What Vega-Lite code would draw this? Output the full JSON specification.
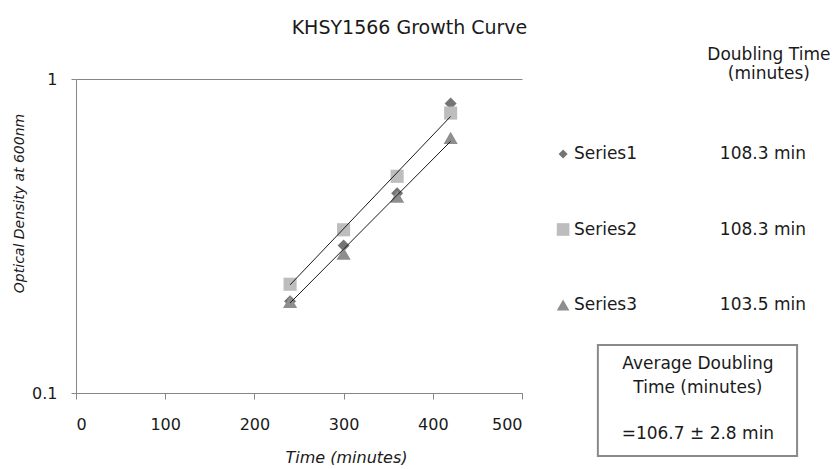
{
  "$schema": "https://vega.github.io/schema/vega-lite/v6.json",
  "background": "white",
  "padding": {"left": 12, "top": 18, "right": 0, "bottom": 0},
  "config": {
    "font": "DejaVu Sans",
    "view": {"stroke": null},
    "axis": {
      "domainColor": "#868686",
      "tickColor": "#868686",
      "gridColor": "#868686",
      "labelColor": "#1a1a1a",
      "titleColor": "#1a1a1a",
      "labelFontSize": 16,
      "titleFontWeight": "normal",
      "titleFontStyle": "italic"
    }
  },
  "title": {
    "text": "KHSY1566 Growth Curve",
    "fontSize": 19,
    "fontWeight": "normal",
    "color": "#1a1a1a",
    "anchor": "middle",
    "offset": 8.5,
    "dx": -12
  },
  "datasets": {
    "od": [
      {"series": "Series1", "time": 240, "od": 0.196},
      {"series": "Series1", "time": 300, "od": 0.295},
      {"series": "Series1", "time": 360, "od": 0.433},
      {"series": "Series1", "time": 420, "od": 0.835},
      {"series": "Series2", "time": 240, "od": 0.222},
      {"series": "Series2", "time": 300, "od": 0.331},
      {"series": "Series2", "time": 360, "od": 0.49},
      {"series": "Series2", "time": 420, "od": 0.779},
      {"series": "Series3", "time": 240, "od": 0.195},
      {"series": "Series3", "time": 300, "od": 0.278},
      {"series": "Series3", "time": 360, "od": 0.422},
      {"series": "Series3", "time": 420, "od": 0.649}
    ],
    "trend": [
      {"line": "Series2 fit", "time": 240, "od": 0.221},
      {"line": "Series2 fit", "time": 420, "od": 0.76},
      {"line": "Series1/3 fit", "time": 240, "od": 0.1935},
      {"line": "Series1/3 fit", "time": 420, "od": 0.633}
    ],
    "doubling": [
      {"series": "Series1", "doubling": "108.3 min"},
      {"series": "Series2", "doubling": "108.3 min"},
      {"series": "Series3", "doubling": "103.5 min"}
    ],
    "summary": [
      {"stat": "average doubling time", "text": "=106.7 ± 2.8 min"}
    ]
  },
  "bounds": "flush",
  "spacing": 22,
  "hconcat": [
    {
      "width": 446,
      "height": 314,
      "layer": [
        {
          "data": {"name": "od"},
          "mark": {"type": "point", "filled": true, "opacity": 1, "strokeWidth": 0},
          "encoding": {
            "x": {
              "field": "time",
              "type": "quantitative",
              "scale": {"domain": [0, 500], "nice": false},
              "axis": {
                "values": [0, 100, 200, 300, 400, 500],
                "grid": false,
                "tickSize": 6,
                "labelPadding": 17,
                "title": "Time (minutes)",
                "titleFontSize": 16,
                "titlePadding": 17,
                "titleX": 270
              }
            },
            "y": {
              "field": "od",
              "type": "quantitative",
              "scale": {"type": "log", "domain": [0.1, 1], "nice": false},
              "axis": {
                "values": [0.1, 1],
                "format": "~g",
                "grid": true,
                "tickSize": 5,
                "labelPadding": 14,
                "title": "Optical Density at 600nm",
                "titleFontSize": 14,
                "titlePadding": 5,
                "titleY": 124
              }
            },
            "shape": {
              "field": "series",
              "type": "nominal",
              "scale": {"domain": ["Series1", "Series2", "Series3"], "range": ["diamond", "square", "triangle-up"]},
              "legend": null
            },
            "color": {
              "field": "series",
              "type": "nominal",
              "scale": {"domain": ["Series1", "Series2", "Series3"], "range": ["#747474", "#bdbdbd", "#8e8e8e"]},
              "legend": null
            },
            "size": {
              "field": "series",
              "type": "ordinal",
              "scale": {"domain": ["Series1", "Series2", "Series3"], "range": [144, 200, 210]},
              "legend": null
            }
          }
        },
        {
          "data": {"name": "trend"},
          "mark": {"type": "line", "color": "#1a1a1a", "strokeWidth": 1},
          "encoding": {
            "x": {"field": "time", "type": "quantitative"},
            "y": {"field": "od", "type": "quantitative"},
            "detail": {"field": "line", "type": "nominal"}
          }
        }
      ]
    },
    {
      "width": 285,
      "height": 380,
      "resolve": {"scale": {"y": "independent"}},
      "layer": [
        {
          "data": {"name": "doubling"},
          "layer": [
            {
              "mark": {"type": "point", "filled": true, "opacity": 1, "strokeWidth": 0},
              "encoding": {
                "x": {"datum": 6.7, "type": "quantitative", "scale": {"domain": [0, 100], "nice": false}, "axis": null},
                "y": {"field": "series", "type": "ordinal", "scale": {"type": "point", "padding": 0, "range": [75, 226]}, "axis": null},
                "shape": {"field": "series", "type": "nominal", "legend": null},
                "color": {"field": "series", "type": "nominal", "legend": null},
                "size": {"condition": {"test": "datum.series === 'Series1'", "value": 81}, "value": 160}
              }
            },
            {
              "mark": {"type": "text", "align": "left", "baseline": "middle", "fontSize": 17, "color": "#1a1a1a"},
              "encoding": {
                "x": {"datum": 10.5, "type": "quantitative"},
                "y": {"field": "series", "type": "ordinal"},
                "text": {"field": "series"}
              }
            },
            {
              "mark": {"type": "text", "align": "center", "baseline": "middle", "fontSize": 17, "color": "#1a1a1a"},
              "encoding": {
                "x": {"datum": 76.8, "type": "quantitative"},
                "y": {"field": "series", "type": "ordinal"},
                "text": {"field": "doubling"}
              }
            }
          ]
        },
        {
          "data": {"name": "summary"},
          "layer": [
            {
              "mark": {"type": "rect", "fill": "white", "stroke": "#8a8a8a", "strokeWidth": 2},
              "encoding": {
                "x": {"datum": 18.9, "type": "quantitative"},
                "x2": {"datum": 88.8},
                "y": {"datum": 70.0, "type": "quantitative", "scale": {"domain": [0, 100], "nice": false, "reverse": true}, "axis": null},
                "y2": {"datum": 99.2}
              }
            },
            {
              "mark": {"type": "text", "align": "center", "baseline": "middle", "fontSize": 17, "lineHeight": 19, "color": "#1a1a1a"},
              "encoding": {
                "x": {"datum": 78.9, "type": "quantitative"},
                "y": {"datum": -6.3, "type": "quantitative"},
                "text": {"value": ["Doubling Time", "(minutes)"]}
              }
            },
            {
              "mark": {"type": "text", "align": "center", "baseline": "middle", "fontSize": 17, "lineHeight": 23.5, "color": "#1a1a1a"},
              "encoding": {
                "x": {"datum": 54.0, "type": "quantitative"},
                "y": {"datum": 75.0, "type": "quantitative"},
                "text": {"value": ["Average Doubling", "Time (minutes)"]}
              }
            },
            {
              "mark": {"type": "text", "align": "center", "baseline": "middle", "fontSize": 17, "color": "#1a1a1a"},
              "encoding": {
                "x": {"datum": 54.0, "type": "quantitative"},
                "y": {"datum": 93.55, "type": "quantitative"},
                "text": {"field": "text"}
              }
            }
          ]
        }
      ]
    }
  ]
}
